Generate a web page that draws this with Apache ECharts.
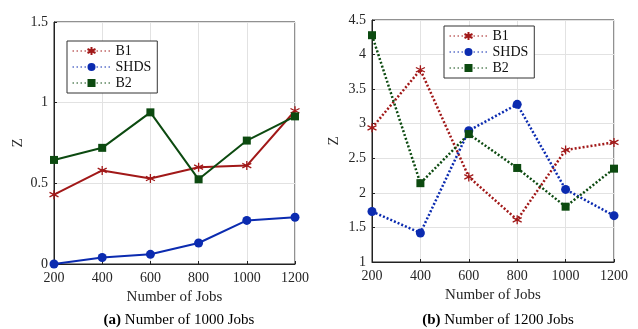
<!DOCTYPE html>
<html>
<head>
<meta charset="UTF-8">
<title></title>
<style>
  html,body{margin:0;padding:0;background:#fff}
  #chart{width:638px;height:329px}
</style>
</head>
<body>
<div id="chart"></div>
<script src="https://cdn.jsdelivr.net/npm/echarts@6/dist/echarts.min.js"></script>
<script>
// data
var jobs = [200, 400, 600, 800, 1000, 1200];
var seriesNames = ['B1', 'SHDS', 'B2'];

// (a) Number of 1000 Jobs
var aB1   = [0.43, 0.58, 0.53, 0.60, 0.61, 0.95];
var aSHDS = [0.00, 0.04, 0.06, 0.13, 0.27, 0.29];
var aB2   = [0.645, 0.72, 0.94, 0.525, 0.765, 0.915];

// (b) Number of 1200 Jobs
var bB1   = [2.94, 3.78, 2.23, 1.61, 2.62, 2.73];
var bSHDS = [1.73, 1.42, 2.90, 3.28, 2.05, 1.67];
var bB2   = [4.28, 2.14, 2.85, 2.36, 1.80, 2.35];

var colors = {B1: '#a11818', SHDS: '#0b2bb0', B2: '#0c4a10'};
var symbols = {
	B1: 'path://M0,-5L0,5M-4.33,-2.5L4.33,2.5M-4.33,2.5L4.33,-2.5',
	SHDS: 'circle',
	B2: 'rect'
};
var font = 'Liberation Serif';
var txt = '#262626';

function pairs(vals) {
	return jobs.map(function(x, i){ return [x, vals[i]]; });
}

function mkSeries(name, vals, idx, dotted) {
	var isStar = name === 'B1';
	return {
		name: name,
		type: 'line',
		xAxisIndex: idx,
		yAxisIndex: idx,
		data: pairs(vals),
		symbol: symbols[name],
		symbolSize: name === 'B2' ? 8 : 9,
		showSymbol: true,
		lineStyle: {color: colors[name], width: dotted ? 2.5 : 2, type: dotted ? [2, 2] : 'solid'},
		itemStyle: isStar
			? {color: 'rgba(0,0,0,0)', borderColor: colors[name], borderWidth: 1.3}
			: {color: colors[name], borderWidth: 0},
		emphasis: {disabled: true},
		z: 3
	};
}

function xAx(idx) {
	return {
		type: 'value', gridIndex: idx, min: 200, max: 1200, interval: 200,
		name: 'Number of Jobs', nameLocation: 'middle', nameGap: 23,
		nameTextStyle: {fontFamily: font, fontSize: 15, color: txt},
		axisLine: {show: true, onZero: false, lineStyle: {color: '#222', width: 1}},
		axisTick: {show: true, inside: true, length: 3, lineStyle: {color: '#222'}},
		axisLabel: {fontFamily: font, fontSize: 14, color: txt, margin: 7,
			formatter: function(v){ return String(v); }},
		splitLine: {show: true, lineStyle: {color: '#e2e2e2', width: 1}}
	};
}

function yAx(idx, min, max, interval) {
	return {
		type: 'value', gridIndex: idx, min: min, max: max, interval: interval,
		name: 'Z', nameLocation: 'middle', nameGap: idx === 0 ? 28 : 30,
		nameTextStyle: {fontFamily: font, fontSize: 15, color: txt},
		axisLine: {show: true, lineStyle: {color: '#222', width: 1}},
		axisTick: {show: true, inside: true, length: 3, lineStyle: {color: '#222'}},
		axisLabel: {fontFamily: font, fontSize: 14, color: txt, margin: 6,
			formatter: function(v){ return String(v); }},
		splitLine: {show: true, lineStyle: {color: '#e2e2e2', width: 1}}
	};
}

function mkLegend(left, top) {
	return {
		left: left, top: top, orient: 'vertical',
		data: seriesNames,
		itemWidth: 38, itemHeight: 10, itemGap: 2,
		padding: [3, 6, 3, 5],
		borderColor: '#333', borderWidth: 1,
		backgroundColor: '#fff',
		lineStyle: {type: [1.5, 2.5], width: 1},
		textStyle: {fontFamily: font, fontSize: 14, color: '#111'},
		selectedMode: false
	};
}

var chart = echarts.init(document.getElementById('chart'));
var option = {
	animation: false,
	backgroundColor: '#fff',
	grid: [
		{left: 54, right: 343, top: 22, bottom: 65, show: true, borderColor: '#222', borderWidth: 1, backgroundColor: 'transparent'},
		{left: 372, right: 24, top: 20, bottom: 67, show: true, borderColor: '#222', borderWidth: 1, backgroundColor: 'transparent'}
	],
	xAxis: [xAx(0), xAx(1)],
	yAxis: [yAx(0, 0, 1.5, 0.5), yAx(1, 1, 4.5, 0.5)],
	legend: [mkLegend(67, 41), mkLegend(444, 26)],
	title: [
		{
			text: '{b|(a)} Number of 1000 Jobs', left: 174, top: 308, textAlign: 'center',
			textStyle: {fontFamily: font, fontSize: 15, fontWeight: 'normal', color: '#000',
				rich: {b: {fontFamily: font, fontSize: 15, fontWeight: 'bold', color: '#000'}}}
		},
		{
			text: '{b|(b)} Number of 1200 Jobs', left: 493, top: 308, textAlign: 'center',
			textStyle: {fontFamily: font, fontSize: 15, fontWeight: 'normal', color: '#000',
				rich: {b: {fontFamily: font, fontSize: 15, fontWeight: 'bold', color: '#000'}}}
		}
	],
	series: [
		mkSeries('B1', aB1, 0, false),
		mkSeries('SHDS', aSHDS, 0, false),
		mkSeries('B2', aB2, 0, false),
		mkSeries('B1', bB1, 1, true),
		mkSeries('SHDS', bSHDS, 1, true),
		mkSeries('B2', bB2, 1, true)
	]
};
chart.setOption(option);
window.addEventListener('resize', chart.resize);
</script>
</body>
</html>
